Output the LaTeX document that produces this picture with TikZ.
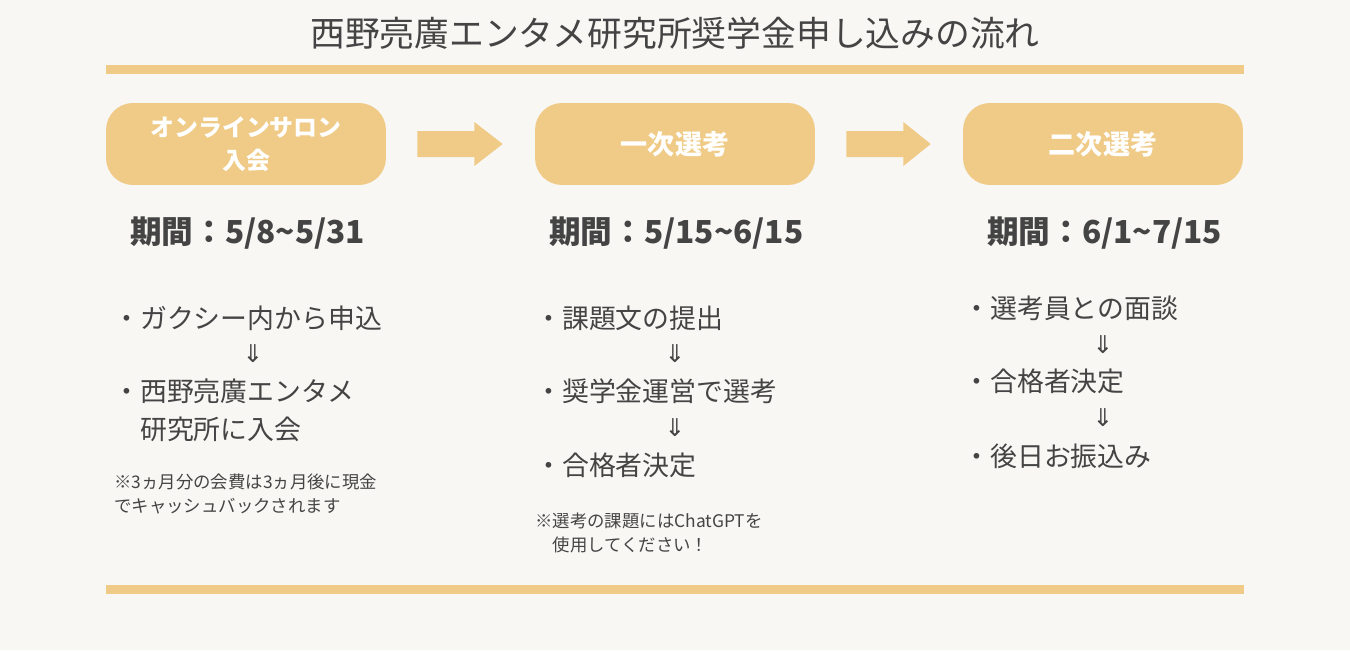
\documentclass[tikz,border=0pt]{standalone}
\usepackage{fontspec}
\setmainfont{Noto Sans CJK JP}
\newfontfamily\arrowfont{DejaVu Sans}
\usetikzlibrary{calc}
\definecolor{bgcol}{HTML}{F8F7F4}
\definecolor{gold}{HTML}{EFCB87}
\definecolor{ink}{HTML}{444444}

\begin{document}
\begin{tikzpicture}[x=0.02cm,y=-0.02cm,
  every node/.style={text=ink,inner sep=0pt},
  stage/.style={fill=gold,rounded corners=0.54cm,minimum width=5.6cm,minimum height=1.64cm,
    text=white,align=center,font=\bfseries\fontsize{15.4}{19}\selectfont},
  period/.style={anchor=west,font=\bfseries\fontsize{18}{22}\selectfont},
  item/.style={anchor=west,align=left,font=\fontsize{15.3}{21.5}\selectfont},
  down/.style={font=\arrowfont\fontsize{14}{16}\selectfont},
  note/.style={anchor=west,align=left,font=\fontsize{9.9}{13.8}\selectfont}]
  \fill[bgcol] (0,0) rectangle (1350,650);
  % title and rules
  \node[font=\fontsize{19.8}{24}\selectfont] (title) at (675,33) {西野亮廣エンタメ研究所奨学金申し込みの流れ};
  \fill[gold] (106,65) rectangle (1244,74);
  \fill[gold] (106,585) rectangle (1244,594);
  % stages
  \node[stage,font=\bfseries\fontsize{13.6}{19}\selectfont] (s1) at (246,144) {オンラインサロン\\入会};
  \node[stage] (s2) at (675,144) {一次選考};
  \node[stage] (s3) at (1103,144) {二次選考};
  \foreach \a/\b in {s1/s2,s2/s3}
    \fill[gold] ($(\a.east)+(31,-13)$) -- ($(\a.east)+(88,-13)$) -- ($(\a.east)+(88,-22)$)
      -- ($(\b.west)+(-32,0)$) -- ($(\a.east)+(88,22)$) -- ($(\a.east)+(88,13)$)
      -- ($(\a.east)+(31,13)$) -- cycle;
  % periods
  \node[period] (p1) at (130,233) {期間：5/8\textasciitilde 5/31};
  \node[period] (p2) at (549,233) {期間：5/15\textasciitilde 6/15};
  \node[period] (p3) at (987,233) {期間：6/1\textasciitilde 7/15};
  % first column
  \node[item] (a1) at (113,318) {・ガクシー内から申込};
  \node[down] (da1) at (253,354) {⇓};
  \node[item] (a2) at (113,410) {・西野亮廣エンタメ\\\hphantom{・}研究所に入会};
  \node[note] (n1) at (114,494) {※3ヵ月分の会費は3ヵ月後に現金\\でキャッシュバックされます};
  % second column
  \node[item] (b1) at (535,318) {・課題文の提出};
  \node[down] (db1) at (675,354) {⇓};
  \node[item] (b2) at (535,391) {・奨学金運営で選考};
  \node[down] (db2) at (675,428) {⇓};
  \node[item] (b3) at (535,465) {・合格者決定};
  \node[note] (n2) at (535,533) {※選考の課題にはChatGPTを\\\hphantom{※}使用してください！};
  % third column
  \node[item] (c1) at (963,308) {・選考員との面談};
  \node[down] (dc1) at (1103,345) {⇓};
  \node[item] (c2) at (963,381) {・合格者決定};
  \node[down] (dc2) at (1103,418) {⇓};
  \node[item] (c3) at (963,456) {・後日お振込み};
\end{tikzpicture}
\end{document}
